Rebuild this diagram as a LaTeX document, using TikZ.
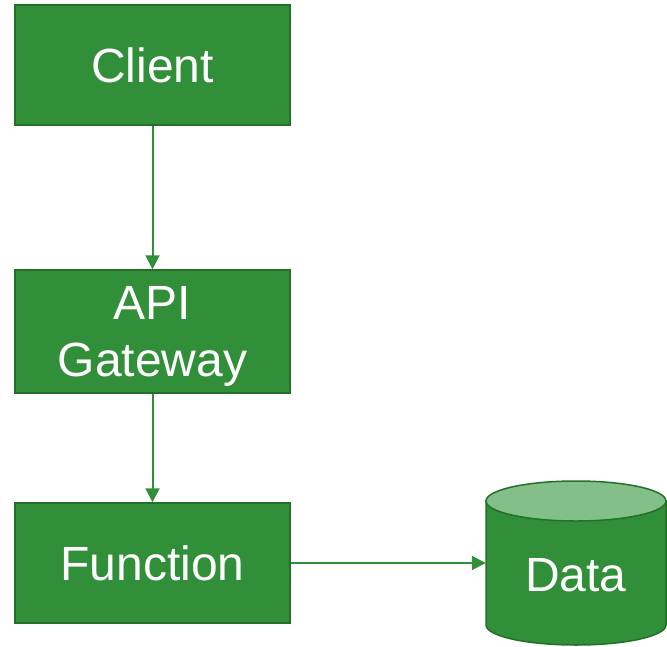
\documentclass[tikz,border=0pt]{standalone}
\usepackage{fontspec}
\setmainfont{Liberation Sans}
\usetikzlibrary{arrows.meta}
\definecolor{boxfill}{RGB}{48,143,56}
\definecolor{boxline}{RGB}{35,112,40}
\definecolor{toplight}{RGB}{131,191,136}
\tikzset{
  box/.style={draw=boxline, line width=1.5pt, fill=boxfill, text=white, minimum width=275pt, minimum height=120pt, inner sep=0pt, align=center, font=\fontsize{48}{57}\selectfont},
  conn/.style={draw=boxfill, line width=2pt, -{Triangle[length=14pt,width=14pt]}},
}
\begin{document}
\begin{tikzpicture}[x=1pt,y=-1pt]
\useasboundingbox (0,0) rectangle (667,646);
\node[box] (client) at (152.5,65) {Client};
\node[box, minimum height=123pt] (api) at (152.5,331.5) {};
\node[text=white, align=center, inner sep=0pt, font=\fontsize{48}{57}\selectfont] (apitext) at (152.5,336) {API\\Gateway};
\node[box] (func) at (152.5,563) {Function};
% cylinder
\draw[draw=boxline, line width=1.5pt, fill=boxfill] (486,501) -- (486,625) arc[start angle=180,end angle=0,x radius=90,y radius=20] -- (666,501) -- cycle;
\draw[draw=boxline, line width=1.5pt, fill=toplight] (576,501) ellipse[x radius=90,y radius=20];
\node[text=white, font=\fontsize{48}{57}\selectfont, minimum width=180pt, minimum height=100pt, inner sep=0pt] (data) at (576,575) {Data};
\draw[conn] (client) -- (api);
\draw[conn] (api) -- (func);
\draw[conn] (func.east) -- (func.east -| data.west);
\end{tikzpicture}
\end{document}
